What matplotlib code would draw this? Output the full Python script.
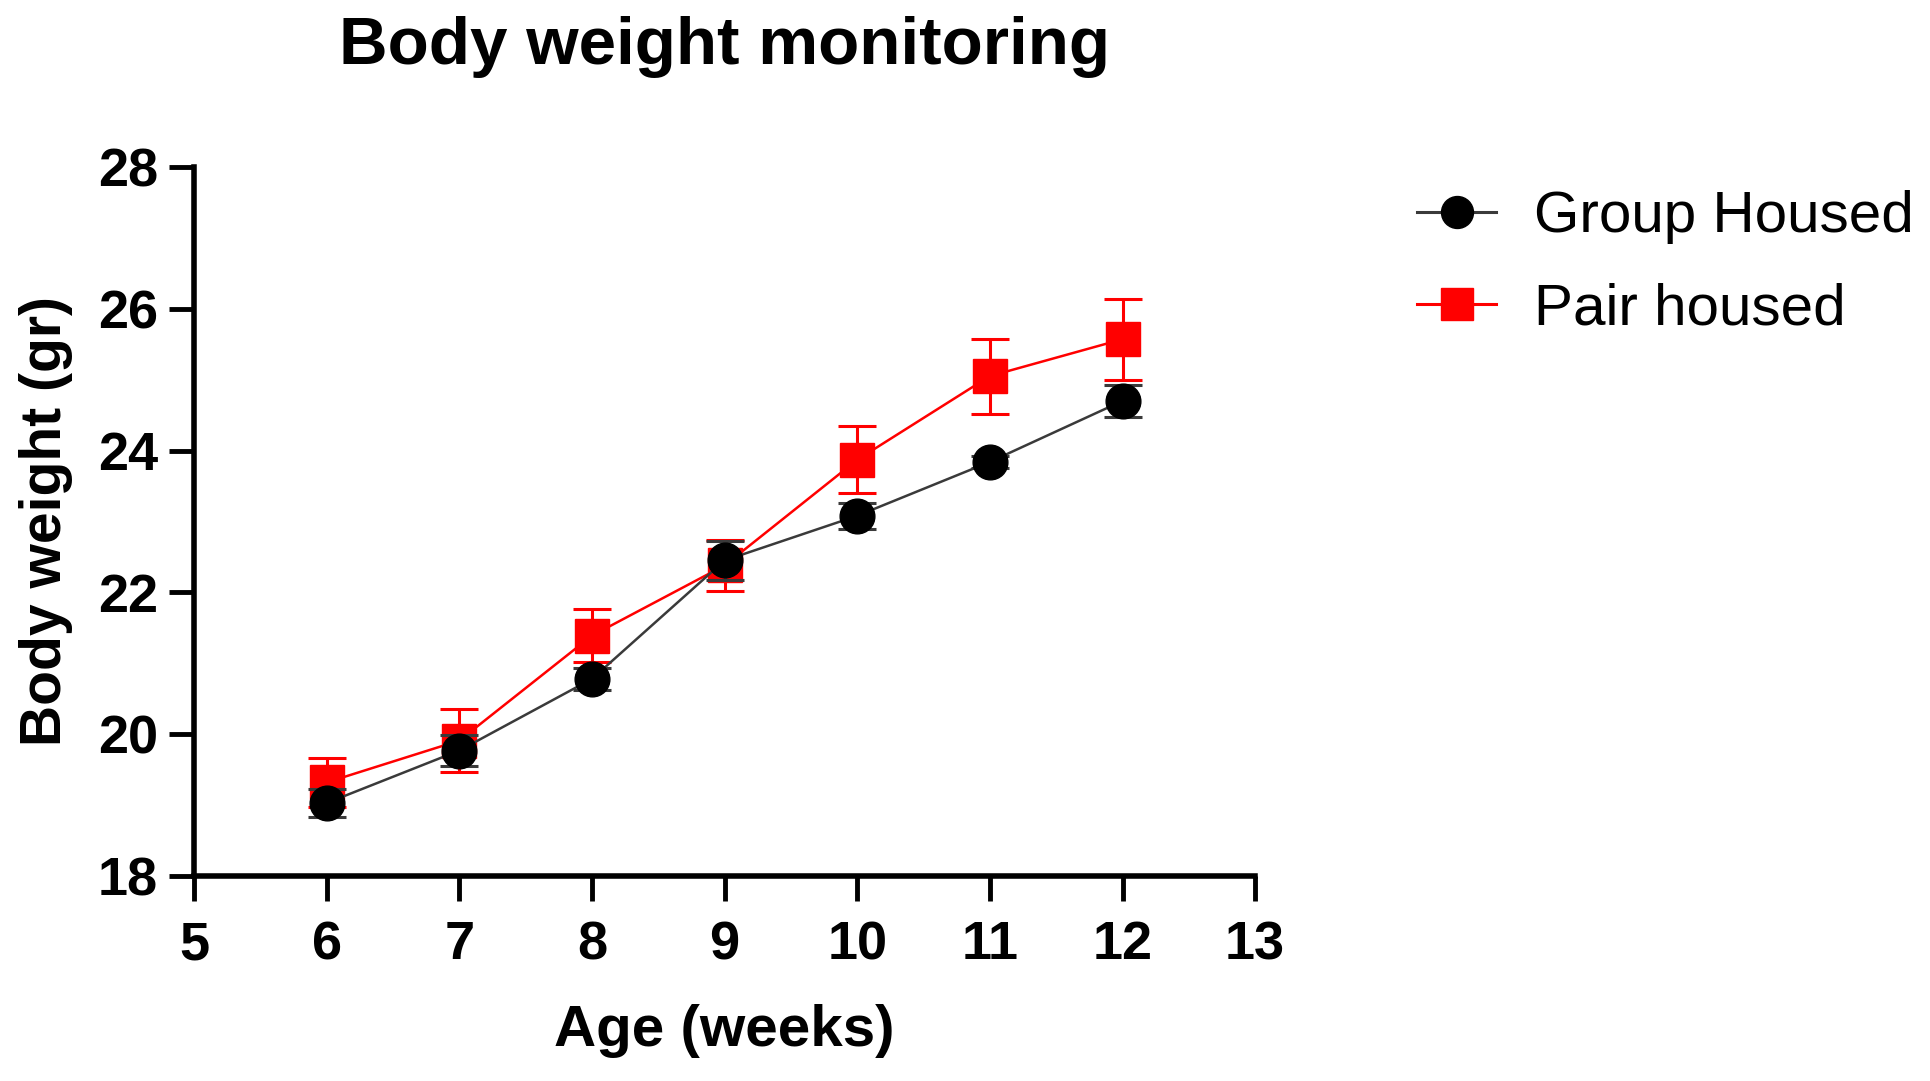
import matplotlib
matplotlib.use("Agg")
import matplotlib.pyplot as plt
from matplotlib.lines import Line2D

plt.rcParams['font.family'] = ['Liberation Sans', 'DejaVu Sans']

weeks = [6, 7, 8, 9, 10, 11, 12]
group_mean = [19.03, 19.77, 20.78, 22.45, 23.08, 23.84, 24.70]
group_err = [0.20, 0.22, 0.16, 0.28, 0.18, 0.08, 0.22]
pair_mean = [19.32, 19.91, 21.39, 22.38, 23.87, 25.05, 25.57]
pair_err = [0.35, 0.44, 0.37, 0.36, 0.47, 0.53, 0.57]
series_labels = ['Group Housed', 'Pair housed']

RED = '#ff0000'
GREY = '#3a3a3a'

fig = plt.figure(figsize=(19.31, 10.81), dpi=100)
ax = fig.add_axes([0.1005, 0.1896, 0.5495, 0.656])

ax.errorbar(weeks, pair_mean, yerr=pair_err, color=RED, marker='s',
            markersize=25, linewidth=1.8, elinewidth=2.2, capsize=14, capthick=2.2,
            zorder=3)
ax.errorbar(weeks, group_mean, yerr=group_err, color=GREY, marker='o',
            markerfacecolor='black', markeredgecolor='black',
            markersize=25, linewidth=1.8, elinewidth=2.2, capsize=14, capthick=2.2,
            zorder=4)

ax.set_xlim(5, 13)
ax.set_ylim(18, 28)
ax.set_xticks(range(5, 14))
ax.set_yticks(range(18, 29, 2))

for s in ['top', 'right']:
    ax.spines[s].set_visible(False)
for s in ['left', 'bottom']:
    ax.spines[s].set_linewidth(4)

ax.tick_params(axis='both', length=18, width=3.5, labelsize=39)
ax.tick_params(axis='x', pad=14)
ax.tick_params(axis='y', pad=8)
for lab in ax.get_xticklabels() + ax.get_yticklabels():
    lab.set_fontweight('bold')

ax.set_xlabel('Age (weeks)', fontsize=42, fontweight='bold', labelpad=24)
ax.set_ylabel('Body weight (gr)', fontsize=41, fontweight='bold', labelpad=18)
fig.suptitle('Body weight monitoring', x=0.375, y=0.985, fontsize=48.5, fontweight='bold')

h_group = Line2D([], [], color=GREY, linewidth=2.2, marker='o', markersize=23,
                 markerfacecolor='black', markeredgecolor='black')
h_pair = Line2D([], [], color=RED, linewidth=2.2, marker='s', markersize=23)
leg = fig.legend([h_group, h_pair], series_labels,
                 loc='upper left', bbox_to_anchor=(0.734, 0.824), frameon=False,
                 fontsize=42, handlelength=1.35, handletextpad=0.65, labelspacing=0.66,
                 borderpad=0, borderaxespad=0)

fig.savefig('out.png', dpi=100)
